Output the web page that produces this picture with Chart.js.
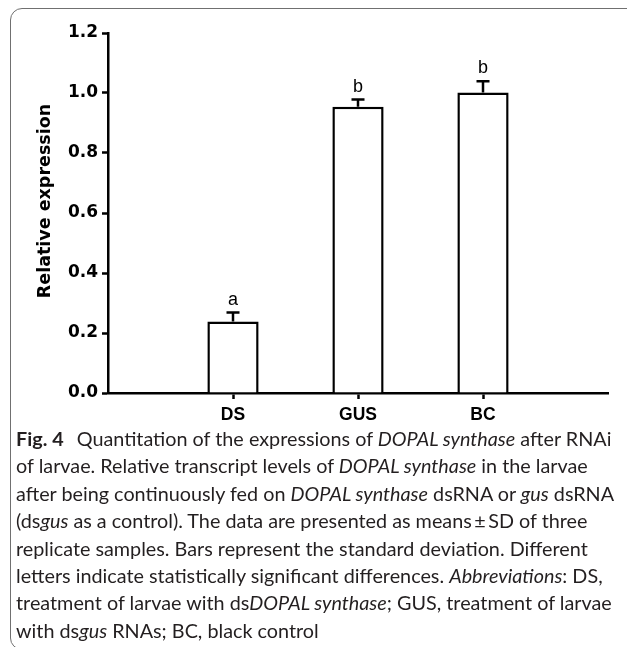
<!DOCTYPE html>
<html>
<head>
<meta charset="utf-8">
<script src="https://cdn.jsdelivr.net/npm/chart.js@4"></script>
<style>
    body { margin: 0; background: #fff; }
    #wrap { position: relative; width: 627px; height: 647px; overflow: hidden; }
    #frame {
        position: absolute; left: 10px; top: 8px; width: 650px; height: 642px;
        border: 1.5px solid #707070; border-radius: 12px; box-sizing: border-box;
    }
    #chart { position: absolute; left: 0; top: 0; }
    #caption {
        position: absolute; left: 16px; top: 425px;
        font-family: Lato, "Open Sans", sans-serif; font-size: 19.8px; line-height: 27.4px;
        color: #231f20; white-space: nowrap;
    }
    #caption b { font-weight: bold; margin-right: 8px; }
</style>
</head>
<body>
<div id="wrap">
    <div id="frame"></div>
    <canvas id="chart" width="627" height="430"></canvas>
    <div id="caption">
        <b>Fig. 4</b> Quantitation of the expressions of <i>DOPAL synthase</i> after RNAi<br>
        of larvae. Relative transcript levels of <i>DOPAL synthase</i> in the larvae<br>
        after being continuously fed on <i>DOPAL synthase</i> dsRNA or <i>gus</i> dsRNA<br>
        (ds<i>gus</i> as a control). The data are presented as means&thinsp;±&thinsp;SD of three<br>
        replicate samples. Bars represent the standard deviation. Different<br>
        letters indicate statistically significant differences. <i>Abbreviations</i>: DS,<br>
        treatment of larvae with ds<i>DOPAL synthase</i>; GUS, treatment of larvae<br>
        with ds<i>gus</i> RNAs; BC, black control
    </div>
</div>
<script>
// values
const groups = ['DS', 'GUS', 'BC'];
const means = [0.238, 0.954, 1.002];
const sds = [0.030, 0.024, 0.037];
const letters = ['a', 'b', 'b'];
const yTickValues = [0, 0.2, 0.4, 0.6, 0.8, 1.0, 1.2];
const yTitle = 'Relative expression';

// empty slots on both ends give the axis its free space
const xLabels = [''].concat(groups, ['']);
const barValues = [null].concat(means, [null]);
const barSds = [null].concat(sds, [null]);
const barLetters = [''].concat(letters, ['']);

// draws the upper error bar and the significance letter of each bar
const errorBarPlugin = {
    id: 'errorBars',
    afterDatasetsDraw(chart) {
        const ctx = chart.ctx;
        const yScale = chart.scales.y;
        const meta = chart.getDatasetMeta(0);
        meta.data.forEach((bar, i) => {
            if (barValues[i] === null) return;
            const top = yScale.getPixelForValue(barValues[i] + barSds[i]);
            ctx.save();
            ctx.strokeStyle = '#000';
            ctx.lineWidth = 2.5;
            ctx.beginPath();
            ctx.moveTo(bar.x, bar.y);
            ctx.lineTo(bar.x, top);
            ctx.moveTo(bar.x - 6.5, top);
            ctx.lineTo(bar.x + 6.5, top);
            ctx.stroke();
            ctx.fillStyle = '#000';
            ctx.font = '18px "Liberation Sans", Arial, sans-serif';
            ctx.textAlign = 'center';
            ctx.textBaseline = 'alphabetic';
            ctx.fillText(barLetters[i], bar.x, top - 8);
            ctx.restore();
        });
    }
};

// y axis title, sitting a little above the middle of the axis like in the figure
const yTitlePlugin = {
    id: 'yTitle',
    afterDraw(chart) {
        const ctx = chart.ctx;
        const area = chart.chartArea;
        ctx.save();
        ctx.translate(45, (area.top + area.bottom) / 2 - 12);
        ctx.rotate(-Math.PI / 2);
        ctx.fillStyle = '#000';
        ctx.font = 'bold 17.5px "DejaVu Sans", sans-serif';
        ctx.textAlign = 'center';
        ctx.textBaseline = 'middle';
        ctx.fillText(yTitle, 0, 0);
        ctx.restore();
    }
};

const ctx = document.getElementById('chart').getContext('2d');
new Chart(ctx, {
    type: 'bar',
    data: {
        labels: xLabels,
        datasets: [{
            data: barValues,
            backgroundColor: '#fff',
            borderColor: '#000',
            borderWidth: 2.5,
            borderSkipped: 'start',
            barPercentage: 0.41,
            categoryPercentage: 1.0
        }]
    },
    options: {
        responsive: false,
        animation: false,
        layout: { padding: { top: 33, right: 19, left: 0, bottom: 0 } },
        plugins: {
            legend: { display: false },
            tooltip: { enabled: false }
        },
        scales: {
            x: {
                offset: false,
                afterFit: scale => { scale.height = 37; },
                grid: {
                    offset: false,
                    drawOnChartArea: false,
                    drawTicks: true,
                    tickLength: 6,
                    tickWidth: 2.5,
                    tickColor: c => (c.tick && c.tick.label) ? '#000' : 'rgba(0,0,0,0)'
                },
                border: { display: true, color: '#000', width: 2.5 },
                ticks: {
                    color: '#000',
                    padding: 6,
                    maxRotation: 0,
                    autoSkip: false,
                    font: { family: '"Liberation Sans", Arial, sans-serif', size: 17.5, weight: 'bold' }
                }
            },
            y: {
                min: 0,
                max: 1.2,
                afterFit: scale => { scale.width = 108; },
                afterBuildTicks: scale => { scale.ticks = yTickValues.map(v => ({ value: v })); },
                grid: {
                    drawOnChartArea: false,
                    drawTicks: true,
                    tickLength: 6,
                    tickWidth: 2.5,
                    tickColor: '#000'
                },
                border: { display: true, color: '#000', width: 2.5 },
                ticks: {
                    color: '#000',
                    padding: 4,
                    callback: v => Number(v).toFixed(1),
                    font: { family: '"DejaVu Sans", sans-serif', size: 17, weight: 'bold' }
                }
            }
        }
    },
    plugins: [errorBarPlugin, yTitlePlugin]
});
</script>
</body>
</html>
